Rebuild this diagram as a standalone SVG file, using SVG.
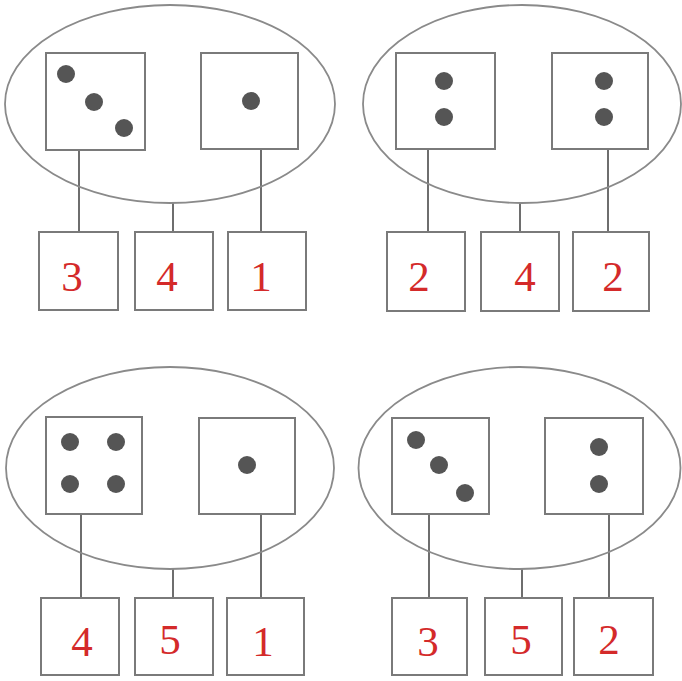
<svg xmlns="http://www.w3.org/2000/svg" width="682" height="681" viewBox="0 0 682 681">
<style>
.ell{fill:none;stroke:#8a8a8a;stroke-width:1.8}
.box{fill:#fff;stroke:#7a7a7a;stroke-width:2}
.dot{fill:#555}
.ln{stroke:#6e6e6e;stroke-width:2;fill:none}
.num{font-family:"Liberation Serif","Times New Roman",serif;font-size:43px;fill:#d42a2a;text-anchor:middle}
</style>
<rect width="682" height="681" fill="#fff"/>
<g id="connectors">
<path class="ln" d="M79 150V232M173 202V232M261 149V232"/>
<path class="ln" d="M428 149V232M520 202V232M608 149V232"/>
<path class="ln" d="M81 514V598M173 569V598M261 514V598"/>
<path class="ln" d="M429 514V598M522 569V598M609 514V598"/>
</g>
<g id="group1">
<ellipse class="ell" cx="170" cy="104" rx="165" ry="99"/>
<g id="die1a"><rect class="box" x="46" y="53" width="99" height="97"/><circle class="dot" cx="66" cy="74" r="9"/><circle class="dot" cx="94" cy="102" r="9"/><circle class="dot" cx="124" cy="128" r="9"/></g>
<g id="die1b"><rect class="box" x="201" y="53" width="97" height="96"/><circle class="dot" cx="251" cy="101" r="9"/></g>
<g id="n1a"><rect class="box" x="39" y="232" width="79" height="78"/><text class="num" x="72" y="291">3</text></g>
<g id="n1b"><rect class="box" x="135" y="232" width="78" height="78"/><text class="num" x="167" y="291">4</text></g>
<g id="n1c"><rect class="box" x="228" y="232" width="78" height="78"/><text class="num" x="261" y="291">1</text></g>
</g>
<g id="group2">
<ellipse class="ell" cx="522" cy="104" rx="159" ry="99"/>
<g id="die2a"><rect class="box" x="396" y="53" width="99" height="96"/><circle class="dot" cx="444" cy="81" r="9"/><circle class="dot" cx="444" cy="117" r="9"/></g>
<g id="die2b"><rect class="box" x="552" y="53" width="96" height="96"/><circle class="dot" cx="604" cy="81" r="9"/><circle class="dot" cx="604" cy="117" r="9"/></g>
<g id="n2a"><rect class="box" x="387" y="232" width="78" height="79"/><text class="num" x="419" y="291">2</text></g>
<g id="n2b"><rect class="box" x="481" y="232" width="78" height="79"/><text class="num" x="525" y="291">4</text></g>
<g id="n2c"><rect class="box" x="573" y="232" width="76" height="79"/><text class="num" x="613" y="291">2</text></g>
</g>
<g id="group3">
<ellipse class="ell" cx="170" cy="468" rx="164" ry="101"/>
<g id="die3a"><rect class="box" x="46" y="417" width="96" height="97"/><circle class="dot" cx="70" cy="442" r="9"/><circle class="dot" cx="116" cy="442" r="9"/><circle class="dot" cx="70" cy="484" r="9"/><circle class="dot" cx="116" cy="484" r="9"/></g>
<g id="die3b"><rect class="box" x="199" y="418" width="96" height="96"/><circle class="dot" cx="247" cy="465" r="9"/></g>
<g id="n3a"><rect class="box" x="41" y="598" width="78" height="77"/><text class="num" x="82" y="656">4</text></g>
<g id="n3b"><rect class="box" x="135" y="598" width="78" height="77"/><text class="num" x="170" y="654">5</text></g>
<g id="n3c"><rect class="box" x="227" y="598" width="77" height="77"/><text class="num" x="263" y="656">1</text></g>
</g>
<g id="group4">
<ellipse class="ell" cx="519.5" cy="468" rx="161" ry="101"/>
<g id="die4a"><rect class="box" x="392" y="418" width="97" height="96"/><circle class="dot" cx="416" cy="440" r="9"/><circle class="dot" cx="439" cy="465" r="9"/><circle class="dot" cx="465" cy="493" r="9"/></g>
<g id="die4b"><rect class="box" x="545" y="418" width="98" height="96"/><circle class="dot" cx="599" cy="447" r="9"/><circle class="dot" cx="599" cy="484" r="9"/></g>
<g id="n4a"><rect class="box" x="392" y="598" width="75" height="77"/><text class="num" x="428" y="656">3</text></g>
<g id="n4b"><rect class="box" x="485" y="598" width="77" height="77"/><text class="num" x="521" y="654">5</text></g>
<g id="n4c"><rect class="box" x="574" y="598" width="79" height="77"/><text class="num" x="609" y="654">2</text></g>
</g>
</svg>
